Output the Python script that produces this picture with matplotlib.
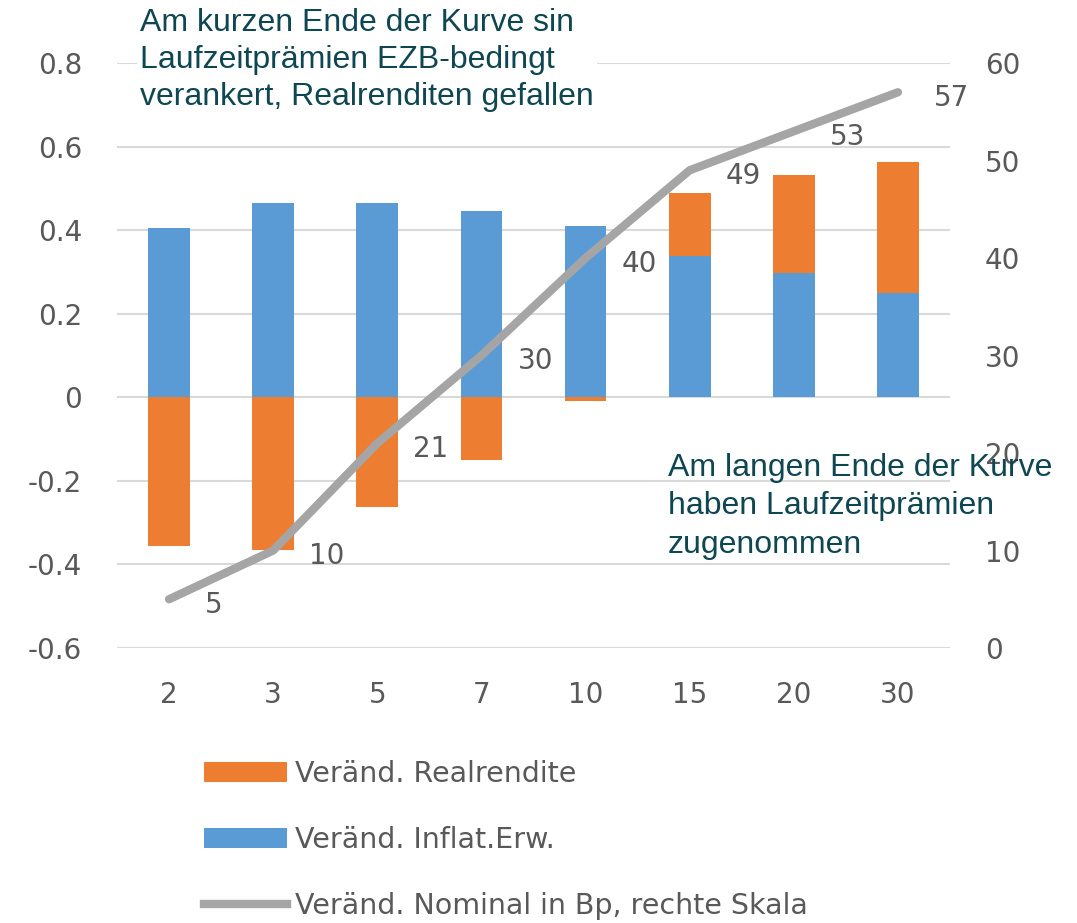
#!/usr/bin/env python3
import numpy as np
import matplotlib
matplotlib.use("Agg")
import matplotlib.pyplot as plt
from matplotlib.patches import Patch
from matplotlib.lines import Line2D

# Laufzeiten (Jahre)
maturities = ["2", "3", "5", "7", "10", "15", "20", "30"]
# Veränderung Inflationserwartung (linke Skala)
inflat_erw = [0.405, 0.465, 0.465, 0.447, 0.41, 0.338, 0.298, 0.25]
# Veränderung Realrendite (linke Skala)
realrendite = [-0.357, -0.366, -0.263, -0.151, -0.01, 0.152, 0.233, 0.313]
# Veränderung Nominalrendite in Bp (rechte Skala)
nominal_bp = [5, 10, 21, 30, 40, 49, 53, 57]

left_ticks = [-0.6, -0.4, -0.2, 0, 0.2, 0.4, 0.6, 0.8]
right_ticks = [0, 10, 20, 30, 40, 50, 60]

ORANGE = "#ED7D31"
BLUE = "#5B9BD5"
GREY = "#A5A5A5"
TXT = "#595959"
TEAL = "#0E4652"


def fmt_left(v):
    return "0" if v == 0 else f"{v:.1f}"


def main():
    plt.rcParams["font.family"] = ["DejaVu Sans"]
    fig = plt.figure(figsize=(10.77, 9.23), dpi=100)
    ax = fig.add_axes([117 / 1077, 1 - 648 / 923, (950 - 117) / 1077, (648 - 63) / 923])

    x = np.arange(len(maturities))
    inf = np.array(inflat_erw)
    real = np.array(realrendite)
    real_bottom = np.where(real >= 0, inf, 0)

    ax.bar(x, inf, width=0.4, color=BLUE, zorder=2)
    ax.bar(x, real, width=0.4, bottom=real_bottom, color=ORANGE, zorder=2)

    ax.set_xlim(-0.5, len(maturities) - 0.5)
    ax.set_ylim(-0.6, 0.8)
    ax.set_yticks(left_ticks)
    ax.set_yticklabels([fmt_left(v) for v in left_ticks])
    ax.set_xticks(x)
    ax.set_xticklabels(maturities)
    ax.tick_params(axis="both", length=0, labelsize=20, labelcolor=TXT)
    ax.tick_params(axis="y", pad=25)
    ax.tick_params(axis="x", pad=24)
    ax.grid(axis="y", color="#D9D9D9", linewidth=1.5, zorder=0)
    ax.set_axisbelow(True)
    for s in ax.spines.values():
        s.set_visible(False)

    ax2 = ax.twinx()
    ax2.plot(x, nominal_bp, color=GREY, linewidth=6, solid_capstyle="round",
             solid_joinstyle="round", zorder=3)
    ax2.set_ylim(0, 60)
    ax2.set_yticks(right_ticks)
    ax2.tick_params(axis="y", length=0, labelsize=20, labelcolor=TXT, pad=25)
    for s in ax2.spines.values():
        s.set_visible(False)

    for xi, v in zip(x, nominal_bp):
        ax2.annotate(str(v), (xi, v), xytext=(26, -4), textcoords="offset points",
                     ha="left", va="center", fontsize=20, color=TXT,
                     annotation_clip=False)

    fig.text(140 / 1077, 1 - 8 / 923,
             "Am kurzen Ende der Kurve sin\nLaufzeitprämien EZB-bedingt\nverankert, Realrenditen gefallen",
             family="Liberation Sans", fontsize=23, color=TEAL, ha="left", va="top",
             linespacing=1.3,
             bbox=dict(facecolor="white", edgecolor="none", pad=2))
    fig.text(668 / 1077, 1 - 453 / 923,
             "Am langen Ende der Kurve\nhaben Laufzeitprämien\nzugenommen",
             family="Liberation Sans", fontsize=23, color=TEAL, ha="left", va="top",
             linespacing=1.36)

    handles = [
        Patch(facecolor=ORANGE, edgecolor="none"),
        Patch(facecolor=BLUE, edgecolor="none"),
        Line2D([0], [0], color=GREY, linewidth=6),
    ]
    labels = ["Veränd. Realrendite", "Veränd. Inflat.Erw.", "Veränd. Nominal in Bp, rechte Skala"]
    fig.legend(handles, labels, loc="upper left", bbox_to_anchor=(204 / 1077, 1 - 760 / 923),
               frameon=False, fontsize=20.5, labelcolor=TXT, handlelength=2.9,
               handleheight=0.7, handletextpad=0.3, labelspacing=1.33, borderpad=0,
               borderaxespad=0)

    fig.savefig("out.png", dpi=100)
    plt.close(fig)


if __name__ == "__main__":
    main()
